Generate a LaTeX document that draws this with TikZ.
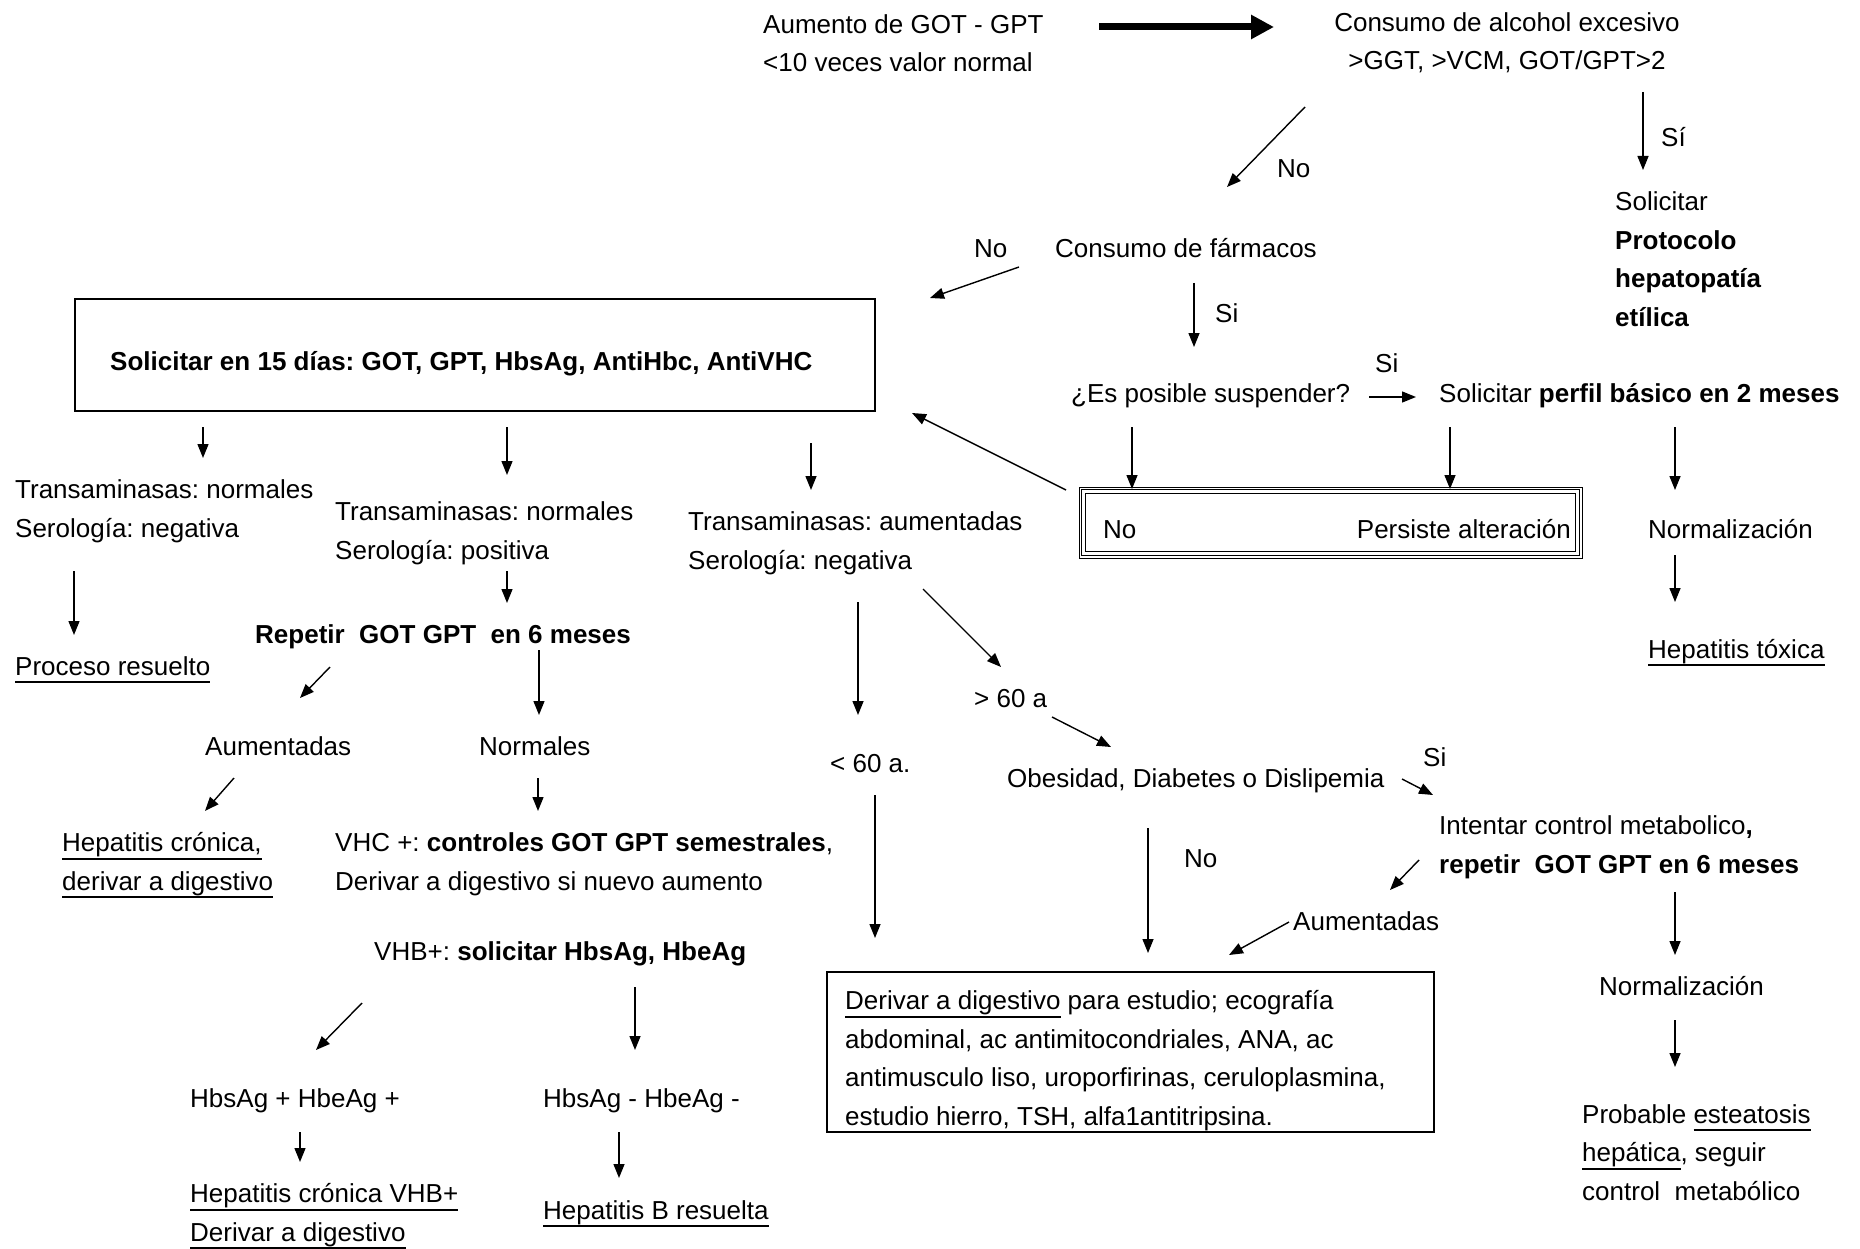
\documentclass[tikz,border=0pt]{standalone}
\usepackage{fontspec}
\setmainfont{Liberation Sans}
\usetikzlibrary{arrows.meta}
\frenchspacing
\newsavebox\ulbox
\newcommand\ulin[1]{\sbox\ulbox{#1}\rlap{\rule[-8pt]{\wd\ulbox}{1.8pt}}\usebox\ulbox}

\begin{document}
\begin{tikzpicture}[x=1pt, y=-1pt, >={Triangle[length=14pt,width=11pt]},
  font=\fontsize{26}{38.5}\selectfont,
  txt/.style={anchor=base west, inner sep=0pt, align=left},
  box/.style={draw, line width=1.6pt, inner sep=0pt},
  arr/.style={->, line width=1.4pt}]
\useasboundingbox (0,0) rectangle (1860,1249);

% top row (multi-line texts sit on the baseline of their last line)
\node (aum) at (763,72) [txt] {Aumento de GOT - GPT\\<10 veces valor normal};
\node (alc) at (1507,70) [txt, anchor=base, align=center] {Consumo de alcohol excesivo\\>GGT, >VCM, GOT/GPT>2};
\node (si1) at (1661,147) [txt] {Sí};
\node (pro) at (1615,326) [txt] {Solicitar\\\textbf{Protocolo}\\\textbf{hepatopatía}\\\textbf{etílica}};
\node (no1) at (1277,178) [txt] {No};
\node (farm) at (1055,258) [txt] {Consumo de fármacos};
\node (no2) at (974,258) [txt] {No};
\node (si2) at (1215,323) [txt] {Si};
\node (si3) at (1375,372) [txt] {Si};
\node (susp) at (1071,402) [txt] {¿Es posible suspender?};
\node (perf) at (1439,402) [txt] {Solicitar \textbf{perfil básico en 2 meses}};

% boxes
\node (solbox) at (475,355) [box, minimum width=800, minimum height=112] {};
\node (sol) at (110,370) [txt] {\textbf{Solicitar en 15 días: GOT, GPT, HbsAg, AntiHbc, AntiVHC}};
\node (dbl) at (1330.5,522.5) [draw, line width=1pt, inner sep=0pt, minimum width=503, minimum height=71] {};
\draw[line width=1.8pt] ([shift={(3,3)}]dbl.north west) rectangle ([shift={(-3,-3)}]dbl.south east);
\draw[line width=1pt] ([shift={(7,7)}]dbl.north west) rectangle ([shift={(-7,-7)}]dbl.south east);
\node (dno) at (1103,538) [txt] {No};
\node (dper) at (1571,538) [txt, anchor=base east] {Persiste alteración};
\node (derbox) at (1130.5,1052) [box, minimum width=607, minimum height=160] {};
\node (der) at (845,1125) [txt] {\ulin{Derivar a digestivo} para estudio; ecografía\\abdominal, ac antimitocondriales, ANA, ac\\antimusculo liso, uroporfirinas, ceruloplasmina,\\estudio hierro, TSH, alfa1antitripsina.};

% right column
\node (norm1) at (1648,538) [txt] {Normalización};
\node (tox) at (1648,658) [txt] {\ulin{Hepatitis tóxica}};

% left branches
\node (t1) at (15,537) [txt] {Transaminasas: normales\\Serología: negativa};
\node (res) at (15,675) [txt] {\ulin{Proceso resuelto}};
\node (t2) at (335,559) [txt] {Transaminasas: normales\\Serología: positiva};
\node (rep) at (255,643) [txt] {\textbf{Repetir\ \ GOT GPT\ \ en 6 meses}};
\node (aum1) at (205,755) [txt] {Aumentadas};
\node (nor1) at (479,755) [txt] {Normales};
\node (hc) at (62,890) [txt] {\ulin{Hepatitis crónica,}\\\ulin{derivar a digestivo}};
\node (vhc) at (335,890) [txt] {VHC +: \textbf{controles GOT GPT semestrales},\\Derivar a digestivo si nuevo aumento};
\node (vhb) at (374,960) [txt] {VHB+: \textbf{solicitar HbsAg, HbeAg}};
\node (hpos) at (190,1107) [txt] {HbsAg + HbeAg +};
\node (hneg) at (543,1107) [txt] {HbsAg - HbeAg -};
\node (hcb) at (190,1241) [txt] {\ulin{Hepatitis crónica VHB+}\\\ulin{Derivar a digestivo}};
\node (hbr) at (543,1219) [txt] {\ulin{Hepatitis B resuelta}};

% middle branch
\node (t3) at (688,569) [txt] {Transaminasas: aumentadas\\Serología: negativa};
\node (lt60) at (830,772) [txt] {< 60 a.};
\node (gt60) at (974,707) [txt] {> 60 a};
\node (obe) at (1007,787) [txt] {Obesidad, Diabetes o Dislipemia};
\node (si4) at (1423,766) [txt] {Si};
\node (no3) at (1184,867) [txt] {No};
\node (int) at (1439,873) [txt] {Intentar control metabolico\textbf{,}\\\textbf{repetir\ \ GOT GPT en 6 meses}};
\node (aum2) at (1293,930) [txt] {Aumentadas};
\node (norm2) at (1599,995) [txt] {Normalización};
\node (est) at (1582,1200) [txt] {Probable \ulin{esteatosis}\\\ulin{hepática}, seguir\\control\ \ metabólico};

% big arrow
\coordinate (bs) at (1099,27);
\coordinate (be) at (1274,27);
\draw[line width=7pt, -{Triangle[length=23pt,width=23pt]}] (bs) -- (be);

% small arrows
\foreach \i/\xa/\ya/\xb/\yb in {1/1643/92/1643/170, 2/1305/107/1227/187, 3/1019/267/930/298,
  4/1194/283/1194/347, 5/1369/397/1416/397, 6/1132/427/1132/489, 7/1450/427/1450/489,
  8/1066/490/912/413, 9/1675/427/1675/490, 10/1675/555/1675/602, 11/203/427/203/458,
  12/74/571/74/635, 13/507/427/507/475, 14/507/571/507/603, 15/330/667/300/698,
  16/539/650/539/715, 17/234/778/205/811, 18/538/778/538/811, 19/811/443/811/490,
  20/858/602/858/715, 21/923/589/1001/667, 22/875/795/875/938, 23/1052/717/1111/747,
  24/1402/779/1433/795, 25/1148/828/1148/953, 26/1419/860/1390/890, 27/1289/922/1229/955,
  28/1675/892/1675/955, 29/1675/1020/1675/1067, 30/362/1003/316/1050, 31/635/987/635/1050,
  32/300/1132/300/1162, 33/619/1132/619/1178}
{
  \coordinate (s\i) at (\xa,\ya);
  \coordinate (e\i) at (\xb,\yb);
  \draw[arr] (s\i) -- (e\i);
}
\end{tikzpicture}
\end{document}
